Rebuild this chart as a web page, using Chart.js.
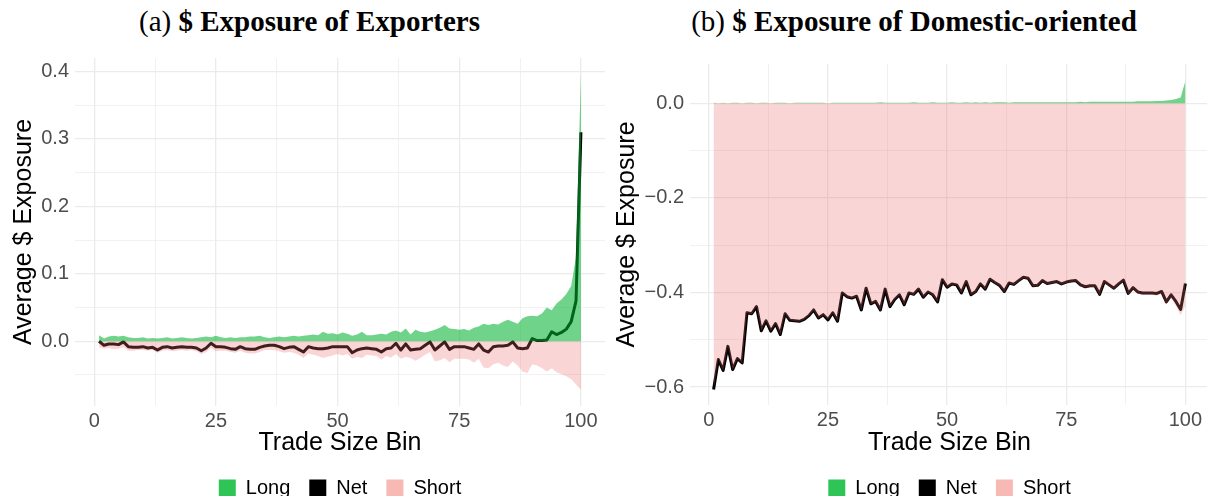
<!DOCTYPE html>
<html>
<head>
<meta charset="utf-8">
<script src="https://cdn.jsdelivr.net/npm/chart.js@4.4.1/dist/chart.umd.min.js"></script>
<style>
  html, body { margin: 0; padding: 0; background: #fff; }
  body { width: 1207px; height: 496px; overflow: hidden; position: relative; }
  .ttl { position: absolute; top: 4px; font-family: "Liberation Serif", "DejaVu Serif", serif; font-size: 29px; line-height: 34px; color: #000; text-align: center; white-space: nowrap; }
  canvas { position: absolute; top: 0; }
</style>
</head>
<body>
<div class="ttl" style="left:0;width:619px">(a) <b>$ Exposure of Exporters</b></div>
<div class="ttl" style="left:608px;width:612px">(b) <b>$ Exposure of Domestic-oriented</b></div>
<canvas id="chartA" width="612" height="508" style="left:0"></canvas>
<canvas id="chartB" width="601" height="508" style="left:608px"></canvas>
<script>
// trade size bins 1..100
const bins = Array.from({ length: 100 }, (_, i) => i + 1);

// (a) exporters
const longA = [
  0.009, 0.004, 0.007, 0.008, 0.007, 0.008, 0.006, 0.005, 0.005, 0.006,
  0.004, 0.005, 0.004, 0.005, 0.006, 0.004, 0.005, 0.006, 0.005, 0.004,
  0.005, 0.006, 0.007, 0.006, 0.008, 0.006, 0.005, 0.006, 0.005, 0.006,
  0.006, 0.007, 0.007, 0.008, 0.006, 0.005, 0.006, 0.007, 0.006, 0.007,
  0.008, 0.007, 0.008, 0.009, 0.010, 0.009, 0.014, 0.011, 0.012, 0.010,
  0.013, 0.011, 0.008, 0.010, 0.014, 0.009, 0.009, 0.010, 0.011, 0.010,
  0.014, 0.016, 0.013, 0.019, 0.010, 0.017, 0.014, 0.013, 0.015, 0.017,
  0.020, 0.024, 0.019, 0.018, 0.017, 0.018, 0.016, 0.020, 0.022, 0.026,
  0.024, 0.026, 0.025, 0.029, 0.032, 0.029, 0.026, 0.034, 0.037, 0.038,
  0.037, 0.041, 0.050, 0.046, 0.056, 0.062, 0.070, 0.082, 0.125, 0.397
];
const netA = [
  0.000, -0.006, -0.004, -0.004, -0.005, -0.001, -0.008, -0.009, -0.009, -0.008,
  -0.010, -0.009, -0.013, -0.009, -0.008, -0.010, -0.009, -0.008, -0.009, -0.009,
  -0.010, -0.014, -0.010, -0.003, -0.008, -0.008, -0.009, -0.011, -0.012, -0.008,
  -0.011, -0.012, -0.012, -0.009, -0.007, -0.006, -0.006, -0.008, -0.011, -0.009,
  -0.008, -0.012, -0.016, -0.008, -0.010, -0.011, -0.011, -0.010, -0.008, -0.008,
  -0.008, -0.008, -0.017, -0.013, -0.011, -0.010, -0.011, -0.012, -0.016, -0.011,
  -0.010, -0.003, -0.013, -0.004, -0.013, -0.012, -0.011, -0.006, -0.001, -0.013,
  -0.007, -0.001, -0.012, -0.008, -0.008, -0.008, -0.010, -0.012, -0.004, -0.013,
  -0.016, -0.008, -0.007, -0.007, -0.006, -0.001, -0.010, -0.011, -0.010, 0.004,
  0.001, 0.001, 0.002, 0.014, 0.010, 0.013, 0.018, 0.029, 0.060, 0.310
];
const shortA = [
  -0.009, -0.011, -0.010, -0.012, -0.011, -0.009, -0.014, -0.014, -0.013, -0.013,
  -0.014, -0.013, -0.017, -0.014, -0.013, -0.015, -0.014, -0.013, -0.014, -0.013,
  -0.015, -0.019, -0.016, -0.010, -0.015, -0.014, -0.014, -0.016, -0.017, -0.014,
  -0.017, -0.018, -0.018, -0.016, -0.013, -0.013, -0.013, -0.015, -0.017, -0.016,
  -0.017, -0.020, -0.025, -0.018, -0.020, -0.022, -0.025, -0.023, -0.021, -0.019,
  -0.021, -0.019, -0.026, -0.023, -0.025, -0.020, -0.021, -0.022, -0.027, -0.022,
  -0.024, -0.019, -0.026, -0.023, -0.025, -0.029, -0.025, -0.020, -0.016, -0.030,
  -0.028, -0.025, -0.031, -0.026, -0.026, -0.026, -0.027, -0.032, -0.026, -0.039,
  -0.040, -0.034, -0.032, -0.036, -0.038, -0.030, -0.036, -0.045, -0.047, -0.034,
  -0.036, -0.040, -0.045, -0.040, -0.046, -0.049, -0.052, -0.056, -0.064, -0.072
];

// (b) domestic-oriented
const longB = [
  0.001, 0.000, 0.001, 0.000, 0.001, 0.001, 0.000, 0.001, 0.001, 0.000,
  0.001, 0.001, 0.000, 0.001, 0.001, 0.001, 0.000, 0.001, 0.001, 0.001,
  0.001, 0.001, 0.001, 0.001, 0.000, 0.001, 0.001, 0.001, 0.001, 0.001,
  0.001, 0.001, 0.001, 0.001, 0.001, 0.002, 0.001, 0.001, 0.001, 0.001,
  0.001, 0.001, 0.002, 0.001, 0.001, 0.001, 0.002, 0.001, 0.001, 0.001,
  0.002, 0.001, 0.001, 0.002, 0.001, 0.002, 0.001, 0.002, 0.001, 0.002,
  0.002, 0.002, 0.001, 0.002, 0.002, 0.002, 0.002, 0.002, 0.002, 0.002,
  0.002, 0.002, 0.002, 0.002, 0.002, 0.002, 0.002, 0.003, 0.002, 0.003,
  0.003, 0.003, 0.003, 0.003, 0.003, 0.003, 0.003, 0.003, 0.003, 0.004,
  0.004, 0.004, 0.004, 0.005, 0.005, 0.006, 0.007, 0.009, 0.012, 0.047
];
const netB = [
  -0.605, -0.542, -0.565, -0.514, -0.563, -0.540, -0.549, -0.443, -0.445, -0.430,
  -0.481, -0.460, -0.482, -0.466, -0.489, -0.445, -0.459, -0.460, -0.461, -0.457,
  -0.449, -0.437, -0.454, -0.447, -0.458, -0.443, -0.461, -0.401, -0.409, -0.412,
  -0.408, -0.437, -0.391, -0.424, -0.419, -0.437, -0.393, -0.430, -0.415, -0.405,
  -0.426, -0.401, -0.404, -0.393, -0.410, -0.399, -0.405, -0.420, -0.373, -0.389,
  -0.382, -0.384, -0.401, -0.377, -0.405, -0.398, -0.382, -0.393, -0.372, -0.379,
  -0.385, -0.398, -0.380, -0.383, -0.375, -0.368, -0.370, -0.386, -0.385, -0.375,
  -0.381, -0.379, -0.377, -0.382, -0.378, -0.376, -0.375, -0.384, -0.388, -0.386,
  -0.386, -0.404, -0.377, -0.384, -0.391, -0.382, -0.374, -0.402, -0.390, -0.399,
  -0.401, -0.401, -0.401, -0.402, -0.398, -0.420, -0.405, -0.419, -0.436, -0.381
];
const shortB = [
  -0.606, -0.542, -0.566, -0.514, -0.564, -0.541, -0.549, -0.444, -0.446, -0.430,
  -0.482, -0.461, -0.482, -0.467, -0.490, -0.446, -0.459, -0.461, -0.462, -0.458,
  -0.450, -0.438, -0.455, -0.448, -0.458, -0.444, -0.462, -0.402, -0.410, -0.413,
  -0.409, -0.438, -0.392, -0.425, -0.420, -0.439, -0.394, -0.431, -0.416, -0.406,
  -0.427, -0.402, -0.406, -0.394, -0.411, -0.400, -0.407, -0.421, -0.374, -0.390,
  -0.384, -0.385, -0.402, -0.379, -0.406, -0.400, -0.383, -0.395, -0.373, -0.381,
  -0.387, -0.400, -0.381, -0.385, -0.377, -0.370, -0.372, -0.388, -0.387, -0.377,
  -0.383, -0.381, -0.379, -0.384, -0.380, -0.378, -0.377, -0.387, -0.390, -0.389,
  -0.389, -0.407, -0.380, -0.387, -0.394, -0.385, -0.377, -0.405, -0.393, -0.403,
  -0.405, -0.405, -0.405, -0.407, -0.403, -0.426, -0.412, -0.428, -0.448, -0.428
];

const seriesNames = ['Long', 'Net', 'Short'];
const legendColors = ['#2EC456', '#000000', '#F8B9B4'];
const xTicks = [0, 12.5, 25, 37.5, 50, 62.5, 75, 87.5, 100];
const yTicksA = [-0.05, 0, 0.05, 0.1, 0.15, 0.2, 0.25, 0.3, 0.35, 0.4];
const yTicksB = [-0.6, -0.5, -0.4, -0.3, -0.2, -0.1, 0];

const SANS = '"Liberation Sans", Arial, sans-serif';
const GRID = '#EBEBEB';

function pts(vals) {
  return bins.map((b, i) => ({ x: b, y: vals[i] }));
}

function isMajor(v, step) {
  const r = v / step;
  return Math.abs(r - Math.round(r)) < 1e-6;
}

function fmt(v) {
  const s = Math.abs(v).toFixed(1);
  return v < -1e-9 ? '\u2212' + s : s;
}

function makeChart(id, o) {
  return new Chart(document.getElementById(id), {
    type: 'line',
    data: {
      datasets: [
        { label: seriesNames[0], data: pts(o.long), backgroundColor: 'rgba(0,177,46,0.565)',
          borderColor: 'rgba(0,0,0,0)', borderWidth: 0, fill: 'origin', pointRadius: 0, order: 0 },
        { label: seriesNames[1], data: pts(o.net), backgroundColor: '#000', borderColor: '#000',
          borderWidth: 3, borderJoinStyle: 'round', fill: false, pointRadius: 0, order: 5 },
        { label: seriesNames[2], data: pts(o.short), backgroundColor: 'rgba(236,105,105,0.28)',
          borderColor: 'rgba(0,0,0,0)', borderWidth: 0, fill: 'origin', pointRadius: 0, order: 0 }
      ]
    },
    options: {
      responsive: false,
      animation: false,
      devicePixelRatio: 1,
      layout: { padding: { top: o.top, left: 0, right: o.right, bottom: 0 } },
      plugins: {
        tooltip: { enabled: false },
        legend: {
          position: 'bottom',
          fullSize: false,
          labels: {
            boxWidth: 17,
            boxHeight: 17,
            padding: 19,
            color: '#000',
            font: { family: SANS, size: 20 },
            sort: (a, b) => a.datasetIndex - b.datasetIndex,
            generateLabels: (chart) =>
              Chart.defaults.plugins.legend.labels.generateLabels(chart).map(item =>
                Object.assign(item, {
                  fillStyle: legendColors[item.datasetIndex],
                  strokeStyle: legendColors[item.datasetIndex],
                  lineWidth: 0
                }))
          }
        }
      },
      scales: {
        x: {
          type: 'linear',
          min: -3.95,
          max: 104.95,
          afterBuildTicks: s => { s.ticks = xTicks.map(v => ({ value: v })); },
          afterFit: s => { s.height = o.xHeight; },
          ticks: {
            autoSkip: false,
            maxRotation: 0,
            padding: 3,
            color: '#4D4D4D',
            font: { family: SANS, size: 20 },
            callback: v => (isMajor(v, 25) ? String(v) : '')
          },
          grid: {
            color: GRID,
            drawTicks: false,
            lineWidth: c => (c.tick && isMajor(c.tick.value, 25) ? 1.3 : 0.7)
          },
          border: { display: false },
          title: {
            display: true,
            text: 'Trade Size Bin',
            color: '#000',
            font: { family: SANS, size: 25 },
            padding: { top: 0, bottom: 1 }
          }
        },
        y: {
          type: 'linear',
          min: o.yMin,
          max: o.yMax,
          afterBuildTicks: s => { s.ticks = o.yTicks.map(v => ({ value: v })); },
          afterFit: s => { s.width = o.yWidth; },
          ticks: {
            autoSkip: false,
            padding: 6,
            color: '#4D4D4D',
            font: { family: SANS, size: 20 },
            callback: v => (isMajor(v, o.yStep) ? fmt(v) : '')
          },
          grid: {
            color: GRID,
            drawTicks: false,
            lineWidth: c => (c.tick && isMajor(c.tick.value, o.yStep) ? 1.3 : 0.7)
          },
          border: { display: false },
          title: {
            display: true,
            text: 'Average $ Exposure',
            color: '#000',
            font: { family: SANS, size: 25 },
            padding: { top: o.yTitlePad, bottom: 0 }
          }
        }
      }
    }
  });
}

makeChart('chartA', {
  long: longA, net: netA, short: shortA,
  yMin: -0.096, yMax: 0.42, yTicks: yTicksA, yStep: 0.1,
  top: 58, right: 7, xHeight: 53, yWidth: 75, yTitlePad: 9
});

makeChart('chartB', {
  long: longB, net: netB, short: shortB,
  yMin: -0.638, yMax: 0.083, yTicks: yTicksB, yStep: 0.2,
  top: 64, right: 0, xHeight: 54, yWidth: 82, yTitlePad: 4
});
</script>
</body>
</html>
